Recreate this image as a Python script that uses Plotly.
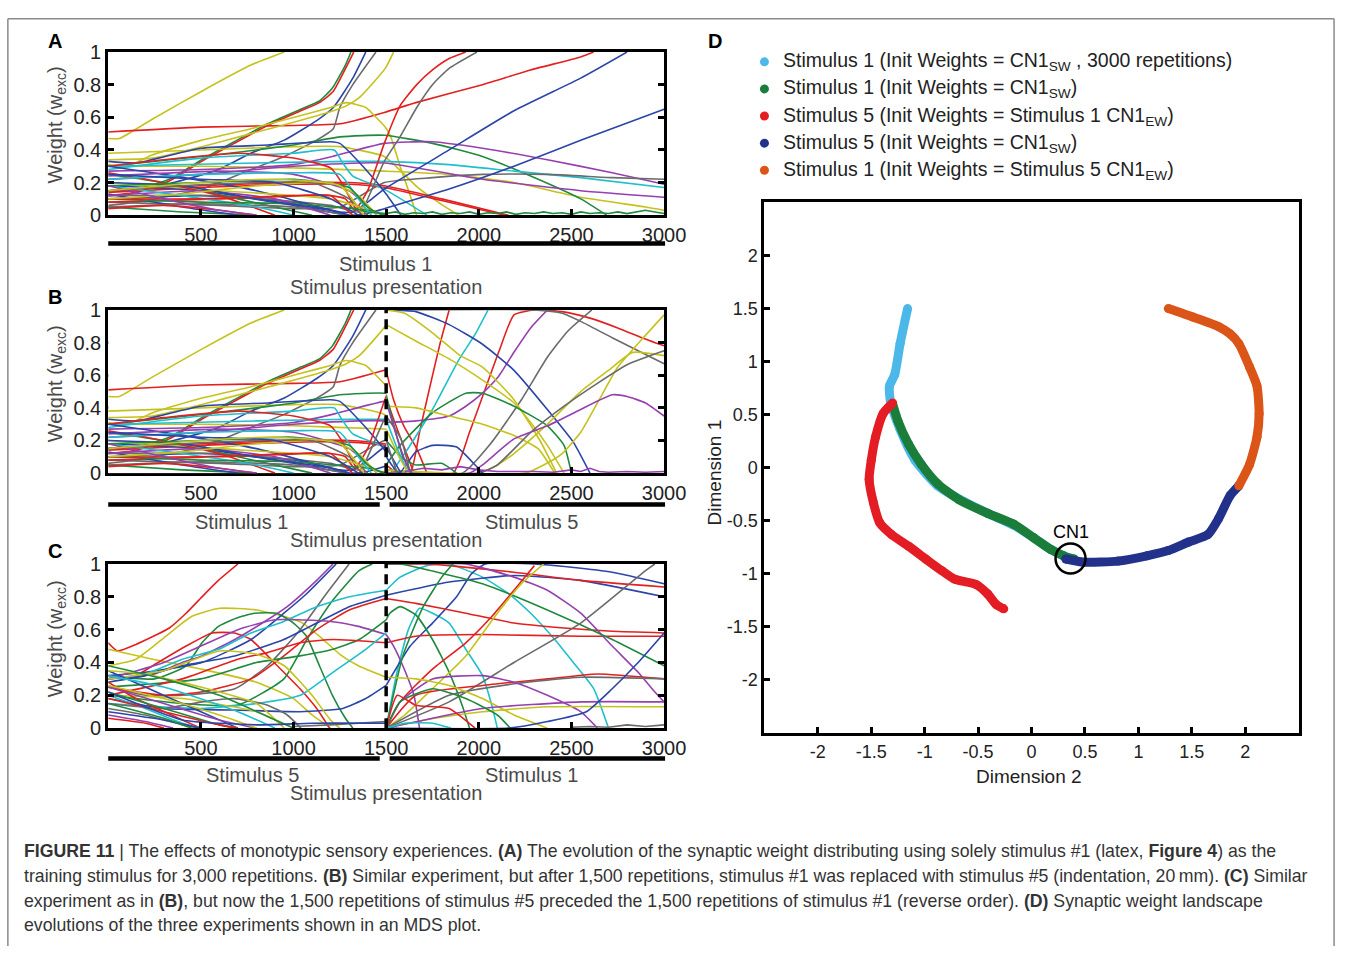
import plotly.graph_objects as go

W, H = 1360, 957
FONT = "Liberation Sans, Arial, sans-serif"

COL = {'r': '#e3201f', 'b': '#2b45a8', 'g': '#1f8a3e', 'y': '#c5c21c',
       'c': '#1fbfcc', 'm': '#9640b0', 'k': '#6b6b6b'}

# ---------------- Panel A : stimulus 1 for 3000 repetitions ----------------
A_lines = [
    ('y', [(0, .47), (60, .47), (240, .59), (505, .76), (770, .92), (950, 1.0)]),
    ('r', [(0, .51), (500, .54), (1000, .55), (1250, .56), (1490, .63), (1660, .69), (2020, .80), (2280, .89), (2550, .97), (2620, 1.0)]),
    ('g', [(0, .15), (150, .16), (330, .22), (505, .34), (680, .45), (860, .56), (1040, .65), (1140, .70), (1210, .78), (1280, .92), (1310, 1.0)]),
    ('r', [(0, .12), (150, .14), (330, .21), (505, .33), (680, .44), (860, .55), (1040, .64), (1140, .69), (1215, .76), (1290, .92), (1325, 1.0)]),
    ('b', [(0, .15), (240, .17), (420, .22), (595, .28), (770, .38), (950, .46), (1125, .58), (1215, .66), (1320, .84), (1390, 1.0)]),
    ('k', [(0, .06), (150, .08), (505, .16), (770, .28), (950, .36), (1125, .46), (1215, .53), (1250, .66), (1320, .80), (1445, 1.0)]),
    ('y', [(0, .34), (240, .35), (505, .42), (770, .50), (1035, .58), (1215, .64), (1285, .67), (1355, .72), (1495, .90), (1540, 1.0)]),
    ('y', [(0, .31), (100, .30), (240, .37), (505, .46), (770, .53), (1035, .61), (1200, .66), (1285, .69), (1390, .66), (1445, .60), (1495, .54), (1525, .48), (1575, .30), (1630, .12), (1665, 0.0)]),
    ('y', [(0, .38), (500, .40), (1000, .42), (1250, .42), (1490, .36), (1580, .27), (1670, .17), (1780, .08), (1890, 0.0)]),
    ('y', [(0, .30), (500, .30), (1000, .29), (1490, .27), (1840, .25), (2190, .20), (2550, .11), (2900, .05), (3000, .03)]),
    ('g', [(0, .30), (500, .36), (1000, .43), (1250, .48), (1490, .49), (1750, .44), (2020, .36), (2280, .24), (2550, .10), (2690, 0.0)]),
    ('m', [(0, .27), (500, .28), (1000, .31), (1210, .36), (1490, .44), (1750, .45), (2020, .41), (2370, .34), (2720, .26), (3000, .19)]),
    ('c', [(0, .30), (800, .32), (1300, .33), (1490, .33), (1840, .31), (2190, .27), (2550, .23), (3000, .17)]),
    ('k', [(0, .08), (600, .06), (1000, .04), (1250, .05), (1490, .20), (1750, .23), (2020, .25), (2370, .25), (2720, .23), (3000, .22)]),
    ('m', [(0, .22), (500, .25), (1000, .30), (1490, .32), (2020, .22), (2550, .15), (3000, .11)]),
    ('r', [(0, .15), (500, .18), (1000, .20), (1300, .20), (1490, .18), (1800, .10), (2160, 0.0)]),
    ('r', [(0, .14), (500, .17), (1000, .19), (1300, .19), (1490, .17), (1800, .09), (2140, 0.0)]),
    ('c', [(0, .28), (500, .35), (1000, .38), (1220, .40), (1260, .33), (1320, .24), (1490, .16), (1720, 0.0)]),
    ('b', [(0, .33), (150, .32), (500, .41), (860, .43), (1200, .45), (1250, .44), (1390, .28), (1500, .13), (1580, 0.0)]),
    ('r', [(0, .30), (300, .34), (700, .38), (1000, .35), (1200, .29), (1260, .20), (1330, .05), (1370, 0.0)]),
    ('b', [(0, .10), (500, .12), (1000, .08), (1250, .02), (1320, .02), (1400, .08), (1490, .16), (1840, .40), (2190, .64), (2550, .84), (2800, 1.0)]),
    ('b', [(0, .18), (500, .15), (1000, .06), (1300, 0.0), (1400, .01), (1490, .04), (1840, .16), (2190, .30), (2550, .46), (3000, .65)]),
    ('r', [(0, .08), (600, .10), (1200, .12), (1280, .10), (1330, .03), (1400, .15), (1490, .44), (1575, .67), (1665, .80), (1750, .89), (1840, .96), (1930, 1.0)]),
    ('k', [(0, .12), (600, .12), (1200, .06), (1360, .02), (1420, .15), (1490, .33), (1575, .48), (1665, .66), (1750, .80), (1840, .90), (1990, 1.0)]),
    ('g', [(0, .25), (300, .20), (700, .10), (1100, 0.0)]),
    ('b', [(0, .30), (300, .25), (800, .15), (1300, 0.0)]),
    ('y', [(0, .20), (600, .15), (1200, .10), (1500, 0.0)]),
    ('r', [(0, .26), (200, .22), (600, .12), (900, 0.0)]),
    ('m', [(0, .24), (600, .27), (1000, .25), (1300, .15), (1450, 0.0)]),
    ('g', [(0, .05), (400, .02), (800, 0.0)]),
    ('b', [(0, .13), (400, .05), (700, 0.0)]),
    ('k', [(0, .05), (500, .07), (1000, .05), (1300, 0.0)]),
    ('m', [(0, .12), (500, .15), (900, .10), (1200, 0.0)]),
    ('c', [(0, .18), (400, .12), (800, .05), (1000, 0.0)]),
    ('g', [(0, .10), (500, .08), (1000, .07), (1400, .03), (1500, 0.0)]),
    ('r', [(0, .10), (500, .10), (1000, .12), (1200, .12), (1270, .05), (1320, 0.0)]),
    ('b', [(0, .20), (400, .18), (800, .10), (1200, .03), (1300, 0.0)]),
    ('c', [(0, .22), (500, .25), (1000, .26), (1250, .25), (1350, .10), (1420, 0.0)]),
    ('y', [(0, .10), (400, .13), (800, .18), (1200, .20), (1350, .12), (1450, 0.0)]),
    ('r', [(0, .04), (300, .06), (600, .03), (800, 0.0)]),
    ('g', [(0, .18), (500, .20), (1000, .22), (1300, .17), (1400, .05), (1480, 0.0)]),
    ('m', [(0, .18), (300, .10), (600, .03), (800, 0.0)]),
    ('k', [(0, .15), (400, .18), (800, .20), (1100, .20), (1300, .10), (1400, 0.0)]),
    ('b', [(0, .25), (500, .22), (900, .20), (1200, .10), (1350, 0.0)]),
    ('y', [(0, .15), (500, .20), (900, .22), (1250, .18), (1380, 0.0)]),
]
A_noise_x = [1300, 1400, 1500, 1550, 1600, 1650, 1700, 1750, 1800, 1850, 1900, 1950, 2000, 2050, 2100,
             2150, 2200, 2250, 2300, 2350, 2400, 2450, 2500, 2550, 2600, 2650, 2700, 2750, 2800, 2850,
             2900, 2950, 3000]
A_noise_y = [.05, .02, .01, .02, .005, .015, .01, .02, .005, .015, .01, .02, .005, .015, .01,
             .02, .005, .015, .01, .02, .01, .015, .005, .02, .01, .015, .01, .02, .01, .02,
             .03, .02, .01]

# ---------------- Panel B : stimulus 5 after 1500 reps of stimulus 1 ----------------
B_stim5_lines = [
    ('r', [(1500, 0.0), (1860, 0.0), (1950, .25), (2030, .50), (2110, .75), (2190, .97), (2300, 1.0), (2450, .99), (2600, .95), (2750, .89), (2880, .83), (3000, .78)]),
    ('r', [(1500, .05), (1560, 0.0), (1630, 0.0), (1680, .25), (1720, .45), (1790, .79), (1840, 1.0)]),
    ('r', [(1500, .63), (1540, .45), (1595, .29), (1665, .15), (1720, 0.0)]),
    ('r', [(1500, .46), (1550, .30), (1600, .15), (1650, 0.0)]),
    ('c', [(1500, .02), (1520, 0.0), (1600, .12), (1750, .39), (1890, .69), (1980, .85), (2050, 1.0)]),
    ('m', [(1500, .31), (1660, .32), (1840, .35), (1930, .41), (2020, .49), (2105, .59), (2195, .75), (2280, .89), (2370, 1.0)]),
    ('k', [(1500, .02), (1910, 0.0), (2070, .19), (2230, .45), (2370, .71), (2480, .87), (2610, 1.0)]),
    ('k', [(1500, 1.0), (2300, 1.0), (2450, .98), (2550, .93), (2720, .83), (3000, .67)]),
    ('b', [(1500, 1.0), (1660, .99), (1840, .91), (2020, .79), (2190, .63), (2370, .39), (2510, .19), (2600, 0.0)]),
    ('y', [(1500, .91), (1660, .81), (1840, .70), (2020, .57), (2190, .43), (2280, .31), (2370, .17), (2460, 0.0)]),
    ('y', [(1500, 1.0), (1600, .98), (1750, .86), (1900, .72), (2020, .65), (2190, .45), (2330, .20), (2420, 0.0)]),
    ('g', [(1500, .05), (1575, .17), (1750, .37), (1930, .49), (2020, .49), (2190, .41), (2370, .29), (2460, .17), (2500, 0.0)]),
    ('y', [(1500, .41), (1660, .40), (1840, .35), (2020, .30), (2190, .23), (2320, .15), (2410, 0.0)]),
    ('y', [(1500, .02), (2000, 0.0), (2100, .05), (2190, .12), (2370, .30), (2550, .50), (2700, .63), (2830, .74), (3000, .72)]),
    ('y', [(1500, 0.0), (2250, 0.0), (2350, .05), (2450, .12), (2550, .25), (2650, .45), (2750, .65), (2880, .82), (3000, .97)]),
    ('k', [(1500, 0.0), (2000, 0.0), (2100, .05), (2280, .25), (2460, .41), (2640, .55), (2810, .67), (3000, .75)]),
    ('m', [(1500, 0.0), (1950, 0.0), (2020, .05), (2190, .21), (2370, .29), (2550, .39), (2720, .48), (2800, .47), (2900, .43), (3000, .35)]),
    ('b', [(1500, .10), (1570, 0.0), (1660, .13), (1750, .17), (1880, .16), (1980, .05), (2020, 0.0)]),
    ('g', [(1500, .20), (1590, .09), (1660, .05), (1800, .06), (1880, 0.0)]),
    ('k', [(1500, .35), (1580, .21), (1630, 0.0)]),
    ('g', [(1500, .48), (1540, .30), (1590, .10), (1640, 0.0)]),
    ('m', [(1500, .44), (1550, .25), (1600, .08), (1630, 0.0)]),
    ('c', [(1500, .33), (1560, .15), (1620, 0.0)]),
    ('b', [(1500, .16), (1580, 0.0)]),
    ('y', [(1500, .27), (1570, .10), (1620, 0.0)]),
    ('k', [(1500, .20), (1560, 0.0)]),
]
B_noise_x = [1600, 1700, 1800, 1900, 2000, 2100, 2300, 2400, 2500, 2550, 2600, 2650, 2700, 2800, 2900, 3000]
B_noise_y = [.01, .03, .02, .04, .02, .01, .01, .005, .02, .01, .03, .01, .005, .01, .005, .01]

# ---------------- Panel C : stimulus 5 then stimulus 1 ----------------
C_stim5_lines = [
    ('r', [(0, .52), (50, .47), (150, .51), (330, .61), (420, .70), (506, .80), (595, .90), (700, 1.0)]),
    ('y', [(0, .38), (150, .42), (300, .55), (450, .68), (600, .73), (800, .72), (950, .68), (1050, .64), (1150, .55), (1250, .45), (1350, .38), (1500, .31)]),
    ('y', [(0, .48), (240, .42), (500, .36), (800, .28), (1000, .18), (1100, .08), (1200, 0.0)]),
    ('g', [(0, .32), (250, .30), (420, .38), (506, .52), (595, .62), (690, .67), (790, .70), (910, .70), (1000, .64), (1070, .56), (1140, .38), (1210, .20), (1280, .06), (1320, 0.0)]),
    ('r', [(0, .30), (150, .32), (240, .38), (420, .50), (560, .58), (680, .58), (770, .54), (895, .40), (1035, .24), (1125, .12), (1195, 0.0)]),
    ('m', [(0, .30), (250, .33), (400, .40), (506, .44), (683, .54), (860, .66), (966, .74), (1125, .90), (1213, 1.0)]),
    ('b', [(0, .32), (200, .34), (506, .40), (771, .54), (948, .70), (1072, .82), (1230, 1.0)]),
    ('k', [(0, .25), (200, .20), (400, .20), (683, .24), (860, .38), (1036, .60), (1178, .82), (1300, 1.0)]),
    ('g', [(0, .20), (400, .15), (700, .14), (948, .30), (1072, .54), (1213, .78), (1354, .96), (1425, 1.0)]),
    ('c', [(0, .30), (200, .33), (400, .42), (595, .48), (771, .58), (948, .65), (1125, .74), (1301, .80), (1500, .84)]),
    ('b', [(0, .28), (200, .32), (400, .38), (683, .44), (948, .54), (1125, .64), (1301, .74), (1500, .81)]),
    ('r', [(0, .25), (300, .20), (500, .22), (771, .30), (948, .44), (1125, .60), (1301, .72), (1500, .79)]),
    ('m', [(0, .30), (300, .40), (500, .50), (700, .60), (900, .66), (1200, .65), (1350, .62), (1500, .57)]),
    ('g', [(0, .25), (500, .30), (800, .40), (1036, .44), (1213, .48), (1354, .54), (1500, .66)]),
    ('r', [(0, .20), (400, .30), (700, .42), (860, .46), (1036, .52), (1213, .54), (1500, .52)]),
    ('c', [(0, .15), (500, .12), (800, .15), (1036, .20), (1213, .34), (1390, .48), (1500, .58)]),
    ('b', [(0, .18), (300, .12), (683, .11), (1036, .10), (1266, .12), (1390, .18), (1500, .26)]),
    ('y', [(0, .30), (300, .35), (600, .47), (800, .45), (950, .38), (1100, .20), (1200, .05), (1250, 0.0)]),
    ('y', [(0, .20), (400, .18), (800, .10), (1000, 0.0)]),
    ('k', [(0, .15), (300, .12), (506, .16), (683, .18), (860, .14), (966, .08), (1040, 0.0)]),
    ('k', [(1000, .01), (1200, .02), (1500, .04)]),
    ('b', [(0, .35), (200, .25), (500, .10), (700, 0.0)]),
    ('r', [(0, .28), (150, .18), (400, .05), (500, 0.0)]),
    ('g', [(0, .22), (300, .12), (600, .02), (700, 0.0)]),
    ('m', [(0, .25), (300, .15), (600, .05), (800, 0.0)]),
    ('c', [(0, .20), (200, .12), (400, .03), (500, 0.0)]),
    ('y', [(0, .26), (300, .18), (600, .08), (800, 0.0)]),
    ('k', [(0, .12), (200, .08), (400, .02), (500, 0.0)]),
    ('r', [(0, .18), (300, .10), (600, .02), (700, 0.0)]),
    ('b', [(0, .10), (300, .05), (500, 0.0)]),
    ('g', [(0, .15), (300, .06), (450, 0.0)]),
    ('m', [(0, .08), (200, .04), (350, 0.0)]),
    ('c', [(0, .32), (300, .25), (700, .10), (900, 0.0)]),
    ('y', [(0, .35), (200, .33), (500, .25), (800, .15), (950, 0.0)]),
    ('r', [(0, .06), (200, .03), (300, 0.0)]),
    ('g', [(0, .38), (300, .30), (600, .20), (900, .05), (1000, 0.0)]),
    ('b', [(0, .22), (400, .05), (800, .02), (1100, .03), (1500, .03)]),
]
C_stim1_lines = [
    ('c', [(1500, .84), (1575, .92), (1720, .99), (1840, 1.0), (2020, .92), (2160, .82), (2280, .70), (2410, .54), (2510, .40), (2620, .24), (2700, 0.0)]),
    ('c', [(1500, 0.0), (1560, .35), (1620, .60), (1680, .73), (1750, .70), (1840, .64), (1930, .48), (2020, .32), (2070, .14), (2100, 0.0)]),
    ('b', [(1500, .81), (1840, .89), (2190, .93), (2550, .90), (3000, .80)]),
    ('b', [(1500, .26), (1630, .50), (1750, .64), (1880, .80), (1960, .94), (2035, 1.0), (2300, 1.0), (2500, .98), (2720, .95), (3000, .88)]),
    ('r', [(1500, .79), (1660, .76), (1930, .70), (2190, .64), (2460, .61), (2720, .59), (3000, .58)]),
    ('r', [(1500, .52), (1660, .56), (2020, .57), (2550, .56), (3000, .56)]),
    ('r', [(1500, 1.0), (1700, 1.0), (1840, .99), (2190, .95), (2550, .90), (3000, .86)]),
    ('m', [(1500, .57), (1540, .50), (1590, .38), (1650, .20), (1680, 0.0)]),
    ('m', [(1500, 1.0), (1930, 1.0), (2190, .92), (2370, .84), (2550, .70), (2720, .50), (2860, .34), (2950, .22), (3000, .16)]),
    ('g', [(1500, 1.0), (1575, 1.0), (2020, .88), (2370, .72), (2720, .54), (3000, .38)]),
    ('g', [(1500, 0.0), (1590, .44), (1700, .74), (1800, .92), (1860, 1.0)]),
    ('g', [(1500, .66), (1520, .70), (1575, .74), (1660, .69), (1750, .54), (1840, .34), (1910, .14), (1950, 0.0)]),
    ('r', [(1500, 0.0), (1575, .16), (1750, .36), (1930, .52), (2070, .68), (2190, .84), (2300, .99)]),
    ('y', [(1500, 0.0), (1600, .08), (1750, .24), (1930, .44), (2100, .70), (2230, .88), (2350, 1.0)]),
    ('k', [(1500, 0.0), (1840, .16), (2190, .40), (2550, .64), (2900, .96), (2950, 1.0)]),
    ('r', [(1500, 0.0), (1660, .20), (2020, .26), (2370, .30), (2640, .33), (3000, .30)]),
    ('k', [(1500, 0.0), (1840, .20), (2190, .27), (2550, .31), (3000, .30)]),
    ('m', [(1500, 0.0), (1575, .16), (1750, .30), (2020, .32), (2190, .28), (2370, .20), (2550, .10), (2640, 0.0)]),
    ('y', [(1500, .31), (1660, .30), (1840, .26), (2020, .18), (2190, .08), (2370, 0.0)]),
    ('y', [(1500, 0.0), (1760, .06), (2020, .10), (2370, .13), (3000, .13)]),
    ('m', [(1500, 0.0), (2020, .12), (2550, .16), (3000, .16)]),
    ('g', [(1500, 0.0), (1575, .16), (1750, .24), (1930, .18), (2100, .08), (2170, 0.0)]),
    ('r', [(1500, 0.0), (1560, .20), (1660, .14), (1840, .12), (1980, 0.0)]),
    ('b', [(1500, 0.0), (2160, 0.0), (2370, .04), (2580, .10), (2720, .24), (2860, .40), (3000, .58)]),
    ('c', [(1500, 0.0), (1600, .03), (1750, .03), (1850, 0.0)]),
]
C_noise_x = [2500, 2600, 2700, 2800, 2900, 3000]
C_noise_y = [.005, .01, .005, .02, .01, .02]

# ---------------- Panel D : MDS trajectories ----------------
mds_lightblue_x = [-1.16, -1.23, -1.28, -1.33, -1.32, -1.23, -1.09, -0.88, -0.72, -0.41, -0.17, 0.02, 0.18, 0.30, 0.37]
mds_lightblue_y = [1.50, 1.17, 0.88, 0.77, 0.62, 0.36, 0.07, -0.17, -0.27, -0.43, -0.54, -0.66, -0.77, -0.83, -0.86]
mds_green_x = [-1.30, -1.25, -1.15, -1.03, -0.88, -0.68, -0.41, -0.17, 0.02, 0.18, 0.30, 0.40]
mds_green_y = [0.60, 0.44, 0.22, 0.03, -0.15, -0.30, -0.43, -0.53, -0.66, -0.77, -0.83, -0.86]
mds_red_x = [-1.30, -1.39, -1.46, -1.50, -1.52, -1.48, -1.42, -1.31, -1.15, -0.99, -0.84, -0.72, -0.52, -0.41, -0.33, -0.26]
mds_red_y = [0.61, 0.51, 0.29, 0.07, -0.11, -0.33, -0.52, -0.63, -0.74, -0.86, -0.97, -1.05, -1.10, -1.19, -1.29, -1.33]
mds_navy_x = [0.32, 0.49, 0.81, 1.08, 1.28, 1.47, 1.65, 1.75, 1.86, 1.94]
mds_navy_y = [-0.86, -0.89, -0.88, -0.83, -0.78, -0.70, -0.63, -0.48, -0.26, -0.17]
mds_orange_x = [1.94, 2.04, 2.11, 2.13, 2.11, 2.04, 1.94, 1.86, 1.75, 1.51, 1.28]
mds_orange_y = [-0.17, 0.03, 0.29, 0.51, 0.77, 0.95, 1.17, 1.26, 1.33, 1.42, 1.50]
cn1_x, cn1_y = [0.365], [-0.855]

legend_names = [
    "Stimulus 1 (Init Weights = CN1<sub>SW</sub> , 3000 repetitions)",
    "Stimulus 1 (Init Weights = CN1<sub>SW</sub>)",
    "Stimulus 5 (Init Weights = Stimulus 1 CN1<sub>EW</sub>)",
    "Stimulus 5 (Init Weights = CN1<sub>SW</sub>)",
    "Stimulus 1 (Init Weights = Stimulus 5 CN1<sub>EW</sub>)",
]
legend_rows = [0, 1, 2, 3, 4]
mds_colors = ['#4cb8ea', '#1a7d3a', '#e31d23', '#22318a', '#db5418']

x_ticks = [500, 1000, 1500, 2000, 2500, 3000]
y_ticks = [0, 0.2, 0.4, 0.6, 0.8, 1]
y_ticktext = ['0', '0.2', '0.4', '0.6', '0.8', '1']
d_ticks = [-2, -1.5, -1, -0.5, 0, 0.5, 1, 1.5, 2]
d_ticktext = ['-2', '-1.5', '-1', '-0.5', '0', '0.5', '1', '1.5', '2']

caption_lines = [
    "<b>FIGURE 11</b> | The effects of monotypic sensory experiences. <b>(A)</b> The evolution of the synaptic weight distributing using solely stimulus #1 (latex, <b>Figure 4</b>) as the",
    "training stimulus for 3,000 repetitions. <b>(B)</b> Similar experiment, but after 1,500 repetitions, stimulus #1 was replaced with stimulus #5 (indentation, 20\u2009mm). <b>(C)</b> Similar",
    "experiment as in <b>(B)</b>, but now the 1,500 repetitions of stimulus #5 preceded the 1,500 repetitions of stimulus #1 (reverse order). <b>(D)</b> Synaptic weight landscape",
    "evolutions of the three experiments shown in an MDS plot.",
]

# ---------------- helpers (page pixel -> paper fraction) ----------------
def px_x(p):
    return p / W


def px_y(p):
    return 1 - p / H


fig = go.Figure()


def add_lines(lines, xa, ya, width=1.6):
    for c, pts in lines:
        fig.add_trace(go.Scatter(
            x=[p[0] for p in pts], y=[p[1] for p in pts], mode='lines',
            line=dict(color=COL[c], width=width, shape='spline', smoothing=0.5),
            xaxis=xa, yaxis=ya, showlegend=False, hoverinfo='skip'))


def add_noise(xs, ys, c, xa, ya):
    fig.add_trace(go.Scatter(x=xs, y=ys, mode='lines', line=dict(color=COL[c], width=1.6),
                             xaxis=xa, yaxis=ya, showlegend=False, hoverinfo='skip'))


# Panel A
add_lines(A_lines, 'x', 'y')
add_noise(A_noise_x, A_noise_y, 'g', 'x', 'y')
# Panel B: first 1500 reps identical stimulus-1 run (clipped overlay axis), then stimulus 5
add_lines(A_lines, 'x5', 'y2')
add_lines(B_stim5_lines, 'x2', 'y2')
add_noise(B_noise_x, B_noise_y, 'm', 'x2', 'y2')
# Panel C
add_lines(C_stim5_lines, 'x3', 'y3')
add_lines(C_stim1_lines, 'x3', 'y3')
add_noise(C_noise_x, C_noise_y, 'k', 'x3', 'y3')

# Panel D
for xs, ys, col in [(mds_lightblue_x, mds_lightblue_y, mds_colors[0]),
                    (mds_green_x, mds_green_y, mds_colors[1]),
                    (mds_red_x, mds_red_y, mds_colors[2]),
                    (mds_navy_x, mds_navy_y, mds_colors[3]),
                    (mds_orange_x, mds_orange_y, mds_colors[4])]:
    fig.add_trace(go.Scatter(x=xs, y=ys, mode='lines+markers',
                             line=dict(color=col, width=9, shape='spline', smoothing=0.6),
                             marker=dict(color=col, size=9),
                             xaxis='x4', yaxis='y4', showlegend=False, hoverinfo='skip'))
fig.add_trace(go.Scatter(x=cn1_x, y=cn1_y, mode='markers',
                         marker=dict(symbol='circle-open', size=30, color='black', line=dict(width=2.5, color='black')),
                         xaxis='x4', yaxis='y4', showlegend=False, hoverinfo='skip'))
# legend of panel D (dots on a hidden key axis + text labels)
fig.add_trace(go.Scatter(x=[0] * len(legend_rows), y=legend_rows, mode='markers',
                         marker=dict(color=mds_colors, size=9),
                         xaxis='x6', yaxis='y6', showlegend=False, hoverinfo='skip'))

# ---------------- axes ----------------
tickfont = dict(family=FONT, size=20, color='#222')
common_x = dict(range=[0, 3000], showline=True, linewidth=3, linecolor='black', mirror=True,
                ticks='inside', ticklen=6, tickwidth=2.5, tickcolor='black', tickvals=x_ticks,
                tickfont=tickfont, showgrid=False, zeroline=False, fixedrange=True)
common_y = dict(range=[0, 1], showline=True, linewidth=3, linecolor='black', mirror='ticks',
                ticks='inside', ticklen=6, tickwidth=2.5, tickcolor='black', tickvals=y_ticks,
                ticktext=y_ticktext, tickfont=tickfont, showgrid=False, zeroline=False, fixedrange=True)

xdom = [px_x(110), px_x(675)]
panels = {'': (42, 209), '2': (306, 473), '3': (566, 734)}
layout_axes = {}
for k, (top, bot) in panels.items():
    layout_axes['xaxis' + k] = dict(common_x, domain=xdom, anchor='y' + k)
    layout_axes['yaxis' + k] = dict(common_y, domain=[px_y(bot), px_y(top)], anchor='x' + k)
layout_axes['xaxis5'] = dict(domain=[px_x(110), px_x(110 + 565 / 2)], range=[0, 1500], anchor='y2',
                             visible=False, fixedrange=True)
d_common = dict(range=[-2.5, 2.5], showline=True, linewidth=3, linecolor='black', mirror=True,
                ticks='inside', ticklen=6, tickwidth=2.5, tickcolor='black', tickvals=d_ticks,
                ticktext=d_ticktext, tickfont=dict(family=FONT, size=18, color='#222'),
                showgrid=False, zeroline=False, fixedrange=True)
layout_axes['xaxis4'] = dict(d_common, domain=[px_x(777), px_x(1320)], anchor='y4')
layout_axes['yaxis4'] = dict(d_common, domain=[px_y(739), px_y(196)], anchor='x4')
# key axes: one unit per legend row, rows 27.75 px apart starting at y=52 px
layout_axes['xaxis6'] = dict(domain=[px_x(767), px_x(787)], range=[-1, 1], visible=False,
                             anchor='y6', fixedrange=True)
layout_axes['yaxis6'] = dict(domain=[px_y(52 + 4.5 * 27.75), px_y(52 - 0.5 * 27.75)], range=[4.5, -0.5],
                             visible=False, anchor='x6', fixedrange=True)

# ---------------- shapes ----------------
shapes = []
for k in ['2', '3']:
    shapes.append(dict(type='line', xref='x' + k, yref='y' + k, x0=1500, x1=1500, y0=0, y1=1,
                       line=dict(color='black', width=3.5, dash='10px,6px'), layer='above'))
bar = dict(type='line', xref='paper', yref='paper', line=dict(color='black', width=4.5))
for x0, x1, yp in [(110, 676, 238), (110, 386, 505), (396, 676, 505), (110, 386, 765), (396, 676, 765)]:
    shapes.append(dict(bar, x0=px_x(x0), x1=px_x(x1), y0=px_y(yp), y1=px_y(yp)))
frame = dict(type='line', xref='paper', yref='paper', line=dict(color='#8a8a8a', width=1.5))
shapes.append(dict(frame, x0=px_x(8), x1=px_x(1356), y0=px_y(8), y1=px_y(8)))
shapes.append(dict(frame, x0=px_x(8), x1=px_x(8), y0=px_y(8), y1=px_y(957)))
shapes.append(dict(frame, x0=px_x(1356), x1=px_x(1356), y0=px_y(8), y1=px_y(957)))

# ---------------- annotations ----------------
ann = []
gray_font = dict(family=FONT, size=20, color='#4a4a4a')


def txt(text, x, y, font, xanchor='center', angle=0):
    ann.append(dict(text=text, x=px_x(x), y=px_y(y), xref='paper', yref='paper', showarrow=False,
                    xanchor=xanchor, yanchor='middle', font=font, textangle=angle))


for lab, x, y in [('A', 56, 31), ('B', 56, 293), ('C', 56, 553), ('D', 727, 31)]:
    txt(lab, x, y, dict(family=FONT, size=20, color='black', weight='bold'))
for yc in [117, 382, 643]:
    txt('Weight (w<sub>exc</sub>)', 57, yc, gray_font, angle=-90)
txt('Stimulus 1', 392, 259, gray_font)
txt('Stimulus presentation', 392, 283, gray_font)
txt('Stimulus 1', 245, 523, gray_font)
txt('Stimulus 5', 540, 523, gray_font)
txt('Stimulus presentation', 392, 541, gray_font)
txt('Stimulus 5', 257, 782, gray_font)
txt('Stimulus 1', 540, 782, gray_font)
txt('Stimulus presentation', 392, 800, gray_font)
dfont = dict(family=FONT, size=19, color='#222')
txt('Dimension 1', 726, 472, dfont, angle=-90)
txt('Dimension 2', 1046, 784, dfont)
ann.append(dict(text='CN1', x=cn1_x[0], y=cn1_y[0], xref='x4', yref='y4', showarrow=False,
                yshift=26, font=dict(family=FONT, size=18, color='black')))
for name, row in zip(legend_names, legend_rows):
    ann.append(dict(text=name, x=0, y=row, xref='x6', yref='y6', xshift=17, showarrow=False,
                    xanchor='left', yanchor='middle', font=dict(family=FONT, size=19.5, color='#222')))
cap_font = dict(family=FONT, size=17.7, color='#333')
for i, line in enumerate(caption_lines):
    txt(line, 22, 860 + i * 25.3, cap_font, xanchor='left')

fig.update_layout(
    width=W, height=H, margin=dict(l=0, r=0, t=0, b=0),
    paper_bgcolor='white', plot_bgcolor='white',
    font=dict(family=FONT, color='#222'),
    showlegend=False,
    shapes=shapes, annotations=ann, **layout_axes)

fig.write_html("out.html")
